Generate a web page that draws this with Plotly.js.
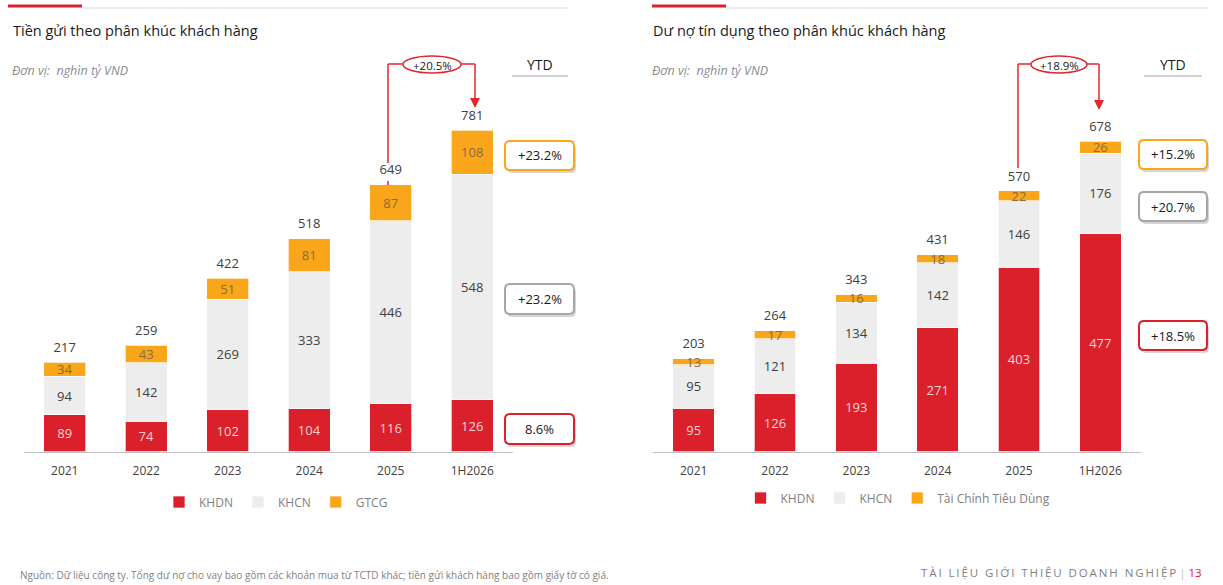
<!DOCTYPE html>
<html>
<head>
<meta charset="utf-8">
<script src="https://cdn.plot.ly/plotly-3.0.1.min.js"></script>
<style>
  html, body { margin: 0; padding: 0; background: #fff; }
  #chart { width: 1223px; height: 585px; }
</style>
</head>
<body>
<div id="chart"></div>
<script>
// Data
const categories = ['2021', '2022', '2023', '2024', '2025', '1H2026'];

// Tiền gửi theo phân khúc khách hàng
const depKHDN = [89, 74, 102, 104, 116, 126];
const depKHCN = [94, 142, 269, 333, 446, 548];
const depGTCG = [34, 43, 51, 81, 87, 108];
const depTotal = [217, 259, 422, 518, 649, 781];

// Dư nợ tín dụng theo phân khúc khách hàng
const loanKHDN = [95, 126, 193, 271, 403, 477];
const loanKHCN = [95, 121, 134, 142, 146, 176];
const loanTCTD = [13, 17, 16, 18, 22, 26];
const loanTotal = [203, 264, 343, 431, 570, 678];

const depYTD = ['+23.2%', '+23.2%', '8.6%'];     // GTCG, KHCN, KHDN
const loanYTD = ['+15.2%', '+20.7%', '+18.5%'];  // TCTD, KHCN, KHDN
const depGrowth = '+20.5%';
const loanGrowth = '+18.9%';

const W = 1223, H = 585;
const FONT = 'Open Sans, Noto Sans, sans-serif';
const RED = '#DA202A', GREY = '#EDEDED', ORANGE = '#F9A61A';

// pixel -> paper helpers (margins are zero, so paper == page)
const px = x => x / W;
const py = y => 1 - y / H;

function segment(name, x, y, yaxis, color, textColor, legend) {
  return {
    type: 'bar', name: name, x: x, y: y,
    xaxis: yaxis === 'y' ? 'x' : 'x2', yaxis: yaxis,
    marker: { color: color, line: { color: 'rgba(255,255,255,0.7)', width: 1 } },
    text: y.map(String),
    textposition: 'inside', insidetextanchor: 'middle',
    constraintext: 'none', textangle: 0,
    insidetextfont: { family: FONT, size: 13, color: textColor },
    legend: legend, hoverinfo: 'x+y+name'
  };
}

function totals(y, axis) {
  return {
    type: 'scatter', mode: 'markers+text', x: categories, y: y,
    xaxis: axis === 'y' ? 'x' : 'x2', yaxis: axis,
    marker: { size: 10, color: 'rgba(0,0,0,0)' },
    text: y.map(String), textposition: 'top center',
    textfont: { family: FONT, size: 13, color: '#404040' },
    showlegend: false, hoverinfo: 'skip', cliponaxis: false
  };
}

const data = [
  segment('KHDN', categories, depKHDN, 'y', RED, '#F7D3D4', 'legend'),
  segment('KHCN', categories, depKHCN, 'y', GREY, '#404040', 'legend'),
  segment('GTCG', categories, depGTCG, 'y', ORANGE, '#8A6B3E', 'legend'),
  totals(depTotal, 'y'),
  segment('KHDN', categories, loanKHDN, 'y2', RED, '#F7D3D4', 'legend2'),
  segment('KHCN', categories, loanKHCN, 'y2', GREY, '#404040', 'legend2'),
  segment('Tài Chính Tiêu Dùng', categories, loanTCTD, 'y2', ORANGE, '#8A6B3E', 'legend2'),
  totals(loanTotal, 'y2')
];

// plot area: baseline at 451.5px, top at 60px
const yDomain = [py(451.5), py(60)];
const span = 451.5 - 60;

const xaxisBase = {
  type: 'category', showline: true, linecolor: '#BFBFBF', linewidth: 1.5,
  ticks: '', showgrid: false, zeroline: false, fixedrange: true,
  ticklabelstandoff: 8,
  tickfont: { family: FONT, size: 12, color: '#404040' }
};
const yaxisBase = {
  visible: false, showgrid: false, zeroline: false, fixedrange: true
};

// Rounded box path in paper coords
function roundRect(x0, y0, x1, y1, r) {
  const p = (x, y) => px(x).toFixed(5) + ',' + py(y).toFixed(5);
  return 'M' + p(x0 + r, y0) + ' L' + p(x1 - r, y0) + ' Q' + p(x1, y0) + ' ' + p(x1, y0 + r) +
    ' L' + p(x1, y1 - r) + ' Q' + p(x1, y1) + ' ' + p(x1 - r, y1) +
    ' L' + p(x0 + r, y1) + ' Q' + p(x0, y1) + ' ' + p(x0, y1 - r) +
    ' L' + p(x0, y0 + r) + ' Q' + p(x0, y0) + ' ' + p(x0 + r, y0) + ' Z';
}

const shapes = [];
const annotations = [];

function line(x0, y0, x1, y1, color, width) {
  shapes.push({ type: 'line', xref: 'paper', yref: 'paper',
    x0: px(x0), y0: py(y0), x1: px(x1), y1: py(y1),
    line: { color: color, width: width } });
}

function label(x, y, text, size, color, anchor, extra) {
  annotations.push(Object.assign({
    xref: 'paper', yref: 'paper', x: px(x), y: py(y), text: text,
    showarrow: false, xanchor: anchor || 'center', yanchor: 'middle',
    font: { family: FONT, size: size, color: color }
  }, extra || {}));
}

function ytdBox(x0, y0, x1, y1, color, text) {
  shapes.push({ type: 'path', xref: 'paper', yref: 'paper',
    path: roundRect(x0 + 2, y0 + 3, x1 + 2, y1 + 3, 5),
    fillcolor: 'rgba(0,0,0,0.16)', line: { width: 0 } });
  shapes.push({ type: 'path', xref: 'paper', yref: 'paper',
    path: roundRect(x0, y0, x1, y1, 5),
    fillcolor: '#FFFFFF', line: { color: color, width: 2 } });
  label((x0 + x1) / 2, (y0 + y1) / 2, text, 13, '#1A1A1A');
}

function connector(xFrom, yFrom, ex0, ex1, xTo, yTip, text) {
  const c = '#E0262E';
  line(xFrom, yFrom, xFrom, 64, c, 1.5);
  line(xFrom, 64, ex0, 64, c, 1.5);
  line(ex1, 64, xTo, 64, c, 1.5);
  line(xTo, 64, xTo, yTip - 9, c, 1.5);
  shapes.push({ type: 'path', xref: 'paper', yref: 'paper',
    path: 'M' + px(xTo - 5) + ',' + py(yTip - 10) + ' L' + px(xTo + 5) + ',' + py(yTip - 10) +
      ' L' + px(xTo) + ',' + py(yTip) + ' Z',
    fillcolor: c, line: { width: 0 } });
  shapes.push({ type: 'circle', xref: 'paper', yref: 'paper',
    x0: px(ex0), x1: px(ex1), y0: py(73), y1: py(56),
    fillcolor: '#FFFFFF', line: { color: c, width: 1.5 } });
  label((ex0 + ex1) / 2, 65, text, 11.5, '#1A1A1A');
}

// header rules
line(8, 6, 82, 6, RED, 3);
line(82, 8, 567, 8, '#D9D9D9', 1);
line(652, 6, 726, 6, RED, 3);
line(726, 8, 1208, 8, '#D9D9D9', 1);

// titles
label(11, 30, 'Tiền gửi theo phân khúc khách hàng', 14.5, '#1A1A1A', 'left');
label(651, 30, 'Dư nợ tín dụng theo phân khúc khách hàng', 14.5, '#1A1A1A', 'left');
label(10, 70, '<i>Đơn vị:  nghìn tỷ VND</i>', 12.5, '#8C8C8C', 'left');
label(650, 70, '<i>Đơn vị:  nghìn tỷ VND</i>', 12.5, '#8C8C8C', 'left');

// YTD headers
label(540, 64, 'YTD', 14, '#1A1A1A');
line(512, 76, 568, 76, '#A6A6A6', 1);
label(1173, 64, 'YTD', 14, '#1A1A1A');
line(1144, 76, 1202, 76, '#A6A6A6', 1);

// YTD boxes
ytdBox(505, 141, 574, 170, ORANGE, depYTD[0]);
ytdBox(505, 284, 574, 314, '#A6A6A6', depYTD[1]);
ytdBox(505, 414, 574, 444, RED, depYTD[2]);
ytdBox(1139, 140, 1207, 169, ORANGE, loanYTD[0]);
ytdBox(1139, 192, 1207, 221, '#A6A6A6', loanYTD[1]);
ytdBox(1139, 321, 1207, 350, RED, loanYTD[2]);

// growth connectors
connector(388, 163, 403, 461, 475, 108, depGrowth);
line(388, 181, 388, 185, '#E0262E', 1.5);
connector(1018, 168, 1031, 1087, 1099, 110, loanGrowth);

// footer
label(18, 575, 'Nguồn: Dữ liệu công ty. Tổng dư nợ cho vay bao gồm các khoản mua từ TCTD khác; tiền gửi khách hàng bao gồm giấy tờ có giá.',
  10, '#7F7F7F', 'left');
const footerTitle = 'TÀI LIỆU GIỚI THIỆU DOANH NGHIỆP'.split('').join('\u2009');
label(1204, 572, footerTitle + ' <span style="color:#BFBFBF">|</span> <span style="color:' + RED + '">13</span>',
  11.5, '#7F7F7F', 'right');

const legendBase = {
  orientation: 'h', xanchor: 'center', yanchor: 'middle',
  traceorder: 'normal', bgcolor: 'rgba(0,0,0,0)',
  font: { family: FONT, size: 12, color: '#7F7F7F' }
};

const layout = {
  width: W, height: H,
  margin: { l: 0, r: 0, t: 0, b: 0 },
  paper_bgcolor: '#FFFFFF', plot_bgcolor: 'rgba(0,0,0,0)',
  barmode: 'stack', bargap: 0.49,
  font: { family: FONT },
  xaxis: Object.assign({}, xaxisBase, { domain: [px(24), px(513)], anchor: 'y' }),
  yaxis: Object.assign({}, yaxisBase, { domain: yDomain, range: [0, span / 0.411], anchor: 'x' }),
  xaxis2: Object.assign({}, xaxisBase, { domain: [px(653), px(1141)], anchor: 'y2' }),
  yaxis2: Object.assign({}, yaxisBase, { domain: yDomain, range: [0, span / 0.457], anchor: 'x2' }),
  legend: Object.assign({}, legendBase, { x: px(276), y: py(502) }),
  legend2: Object.assign({}, legendBase, { x: px(898), y: py(498) }),
  shapes: shapes,
  annotations: annotations
};

Plotly.newPlot('chart', data, layout, { displayModeBar: false, staticPlot: true });
</script>
</body>
</html>
